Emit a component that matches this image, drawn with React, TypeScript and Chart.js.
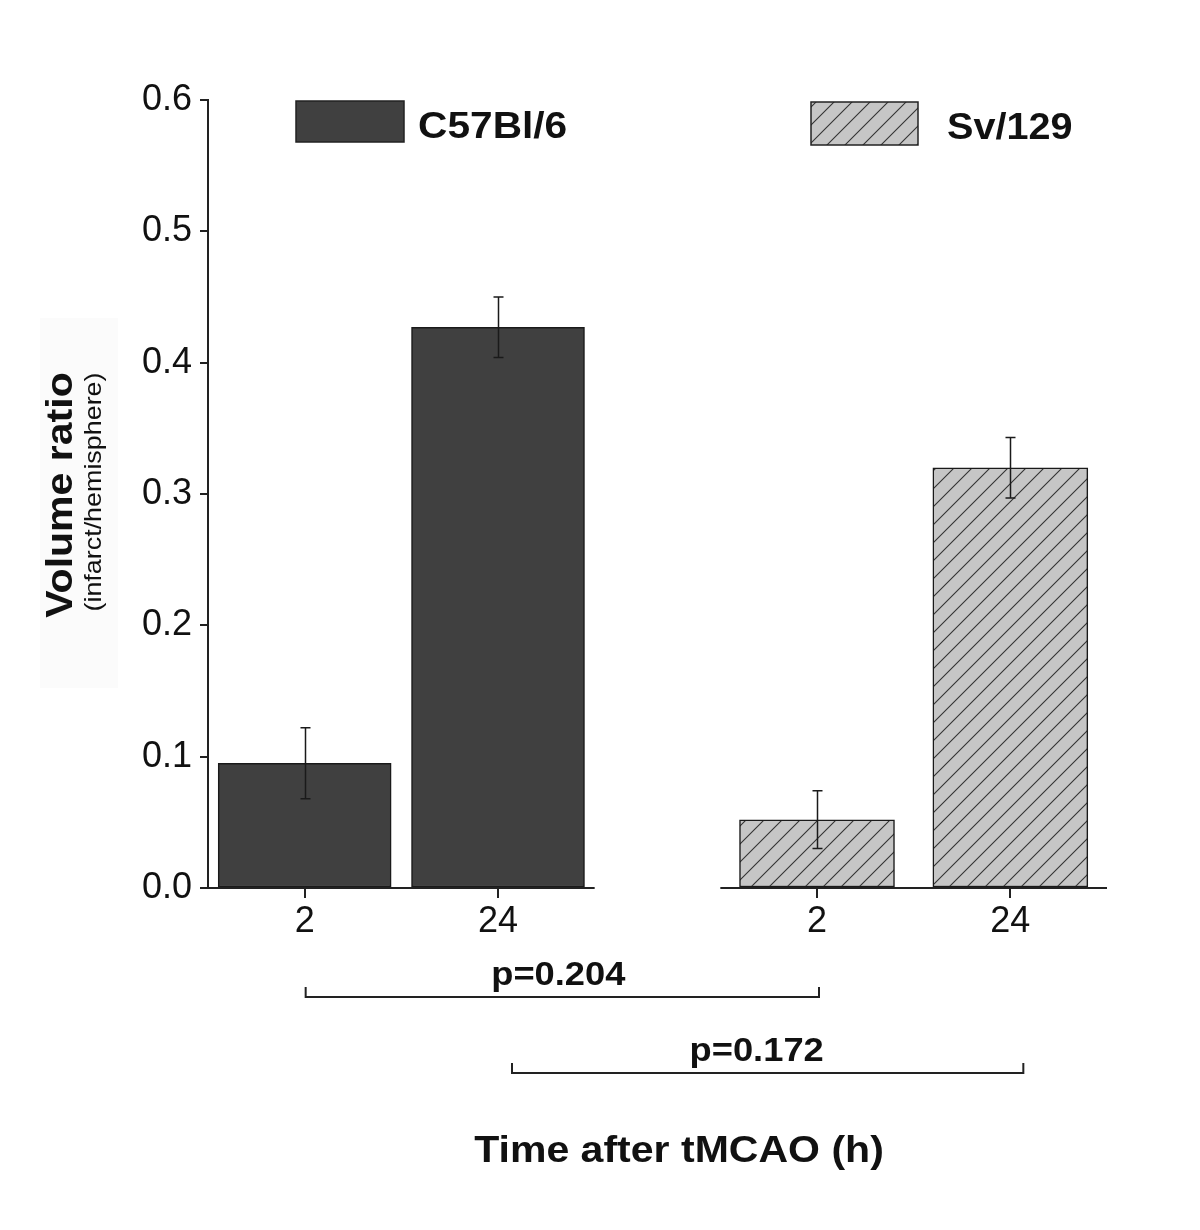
import React, { useEffect, useRef } from "react";
import { Chart, registerables } from "chart.js";
Chart.register(...registerables);

// ---- data ----
const categories = ["2", "24"];
const strainLabels = ["C57Bl/6", "Sv/129"];
const c57Values = [0.095, 0.427];
const c57Errors = [0.027, 0.023];
const svValues = [0.052, 0.32];
const svErrors = [0.022, 0.023];
const yTicks = [0, 0.1, 0.2, 0.3, 0.4, 0.5, 0.6];
const pLabels = ["p=0.204", "p=0.172"];
const yTitle = "Volume ratio";
const ySubtitle = "(infarct/hemisphere)";
const xTitle = "Time after tMCAO (h)";

// ---- layout constants ----
const GROUP_GAP = 2.65;
const FONT = "'Liberation Sans', Arial, Helvetica, sans-serif";
const W = 1200;
const H = 1230;

function makeHatch(): CanvasPattern | string {
  const c = document.createElement("canvas");
  c.width = 18;
  c.height = 18;
  const g = c.getContext("2d");
  if (!g) return "#c6c6c6";
  g.fillStyle = "#c6c6c6";
  g.fillRect(0, 0, 18, 18);
  g.strokeStyle = "#333333";
  g.lineWidth = 1.1;
  g.beginPath();
  g.moveTo(0, 18);
  g.lineTo(18, 0);
  g.moveTo(-2, 2);
  g.lineTo(2, -2);
  g.moveTo(16, 20);
  g.lineTo(20, 16);
  g.stroke();
  return g.createPattern(c, "repeat") || "#c6c6c6";
}

function txt(
  ctx: CanvasRenderingContext2D,
  s: string,
  x: number,
  y: number,
  size: number,
  bold: boolean,
  sx: number,
  align: CanvasTextAlign = "left",
  rot = 0
) {
  ctx.save();
  ctx.font = `${bold ? "bold " : ""}${size}px ${FONT}`;
  ctx.fillStyle = "#111";
  ctx.textBaseline = "alphabetic";
  ctx.textAlign = align;
  ctx.translate(x, y);
  if (rot) ctx.rotate(rot);
  ctx.scale(sx, 1);
  ctx.fillText(s, 0, 0);
  ctx.restore();
}

export default function App() {
  const ref = useRef<HTMLCanvasElement | null>(null);

  useEffect(() => {
    if (!ref.current) return;
    const hatch = makeHatch();
    const errs = [c57Errors, svErrors];
    const tickPositions = [0, 1, GROUP_GAP, GROUP_GAP + 1];
    const tickLabels = [...categories, ...categories];

    const decor = {
      id: "decor",
      beforeDraw(chart: any) {
        const ctx = chart.ctx as CanvasRenderingContext2D;
        ctx.save();
        ctx.fillStyle = "#ffffff";
        ctx.fillRect(0, 0, chart.width, chart.height);
        ctx.fillStyle = "#fbfbfb";
        ctx.fillRect(40, 318, 78, 370);
        ctx.restore();
      },
      afterDatasetsDraw(chart: any) {
        const ctx = chart.ctx as CanvasRenderingContext2D;
        const ys = chart.scales.y;
        ctx.save();
        ctx.strokeStyle = "#1a1a1a";
        ctx.lineWidth = 1.5;
        chart.data.datasets.forEach((ds: any, di: number) => {
          const meta = chart.getDatasetMeta(di);
          meta.data.forEach((el: any, i: number) => {
            const v = ds.data[i].y;
            const e = errs[di][i];
            const x = Math.round(el.x) + 0.5;
            const yt = ys.getPixelForValue(v + e);
            const yb = ys.getPixelForValue(v - e);
            ctx.beginPath();
            ctx.moveTo(x, yt);
            ctx.lineTo(x, yb);
            ctx.moveTo(x - 5, yt);
            ctx.lineTo(x + 5, yt);
            ctx.moveTo(x - 5, yb);
            ctx.lineTo(x + 5, yb);
            ctx.stroke();
          });
        });
        ctx.restore();
      },
      afterDraw(chart: any) {
        const ctx = chart.ctx as CanvasRenderingContext2D;
        const xs = chart.scales.x;
        const ys = chart.scales.y;
        const y0 = ys.getPixelForValue(0);
        ctx.save();
        // broken x axis
        ctx.strokeStyle = "#222";
        ctx.lineWidth = 2;
        ctx.beginPath();
        ctx.moveTo(xs.getPixelForValue(-0.5), y0);
        ctx.lineTo(xs.getPixelForValue(1.5), y0);
        ctx.moveTo(xs.getPixelForValue(GROUP_GAP - 0.5), y0);
        ctx.lineTo(xs.getPixelForValue(GROUP_GAP + 1.5), y0);
        ctx.stroke();

        // legend
        ctx.lineWidth = 1.5;
        ctx.strokeStyle = "#222";
        ctx.fillStyle = "#404040";
        ctx.fillRect(296, 101, 108, 41);
        ctx.strokeRect(296, 101, 108, 41);
        txt(ctx, strainLabels[0], 418, 138, 36, true, 1.13);
        ctx.fillStyle = hatch as any;
        ctx.fillRect(811, 102, 107, 43);
        ctx.strokeRect(811, 102, 107, 43);
        txt(ctx, strainLabels[1], 947, 139, 36, true, 1.1);

        // brackets
        ctx.strokeStyle = "#222";
        ctx.lineWidth = 2;
        const b1a = xs.getPixelForValue(0) + 1;
        const b1b = xs.getPixelForValue(GROUP_GAP) + 2;
        const b2a = xs.getPixelForValue(1) + 14;
        const b2b = xs.getPixelForValue(GROUP_GAP + 1) + 13;
        ctx.beginPath();
        ctx.moveTo(b1a, 987);
        ctx.lineTo(b1a, 997);
        ctx.lineTo(b1b, 997);
        ctx.lineTo(b1b, 987);
        ctx.moveTo(b2a, 1063);
        ctx.lineTo(b2a, 1073);
        ctx.lineTo(b2b, 1073);
        ctx.lineTo(b2b, 1063);
        ctx.stroke();
        txt(ctx, pLabels[0], (b1a + b1b) / 2 - 4, 985, 33, true, 1.1, "center");
        txt(ctx, pLabels[1], (b2a + b2b) / 2 - 11, 1061, 33, true, 1.1, "center");

        // axis titles
        txt(ctx, xTitle, 679, 1162, 36, true, 1.14, "center");
        txt(ctx, yTitle, 72, 495, 36, true, 1.14, "center", -Math.PI / 2);
        txt(ctx, ySubtitle, 101, 492, 24, false, 1.12, "center", -Math.PI / 2);
        ctx.restore();
      },
    };

    const chart = new Chart(ref.current, {
      type: "bar",
      data: {
        datasets: [
          {
            label: strainLabels[0],
            data: c57Values.map((v, i) => ({ x: i, y: v })),
            backgroundColor: "#404040",
            borderColor: "#1a1a1a",
            borderWidth: 1.5,
            borderSkipped: false,
            barThickness: 173,
            grouped: false,
          } as any,
          {
            label: strainLabels[1],
            data: svValues.map((v, i) => ({ x: GROUP_GAP + i, y: v })),
            backgroundColor: hatch as any,
            borderColor: "#1a1a1a",
            borderWidth: 1.5,
            borderSkipped: false,
            barThickness: 155,
            grouped: false,
          } as any,
        ],
      },
      options: {
        responsive: false,
        animation: false,
        devicePixelRatio: 1,
        layout: { padding: { left: 0, right: 93, top: 100, bottom: 0 } },
        plugins: { legend: { display: false }, tooltip: { enabled: false } },
        scales: {
          x: {
            type: "linear",
            min: -0.5,
            max: GROUP_GAP + 1.5,
            offset: false,
            afterBuildTicks: (s: any) => {
              s.ticks = tickPositions.map((v) => ({ value: v }));
            },
            afterFit: (s: any) => {
              s.height = H - 888;
            },
            ticks: {
              callback: (_v: any, i: number) => tickLabels[i],
              font: { family: FONT, size: 36 },
              color: "#111",
              padding: 2,
              maxRotation: 0,
              autoSkip: false,
            },
            grid: {
              drawOnChartArea: false,
              drawTicks: true,
              tickLength: 10,
              color: "#222",
              lineWidth: 2,
              offset: false,
            },
            border: { display: false },
          } as any,
          y: {
            type: "linear",
            min: 0,
            max: 0.6,
            afterFit: (s: any) => {
              s.width = 208;
            },
            afterBuildTicks: (s: any) => {
              s.ticks = yTicks.map((v) => ({ value: v }));
            },
            ticks: {
              callback: (v: any) => Number(v).toFixed(1),
              font: { family: FONT, size: 36 },
              color: "#111",
              padding: 8,
            },
            grid: {
              drawOnChartArea: false,
              drawTicks: true,
              tickLength: 8,
              color: "#222",
              lineWidth: 2,
            },
            border: { display: true, color: "#222", width: 2 },
          } as any,
        },
      },
      plugins: [decor],
    });
    return () => chart.destroy();
  }, []);

  return (
    <div style={{ position: "fixed", left: 0, top: 0, width: W, height: H, background: "#fff" }}>
      <canvas ref={ref} width={W} height={H} style={{ display: "block", width: W, height: H }} />
    </div>
  );
}
